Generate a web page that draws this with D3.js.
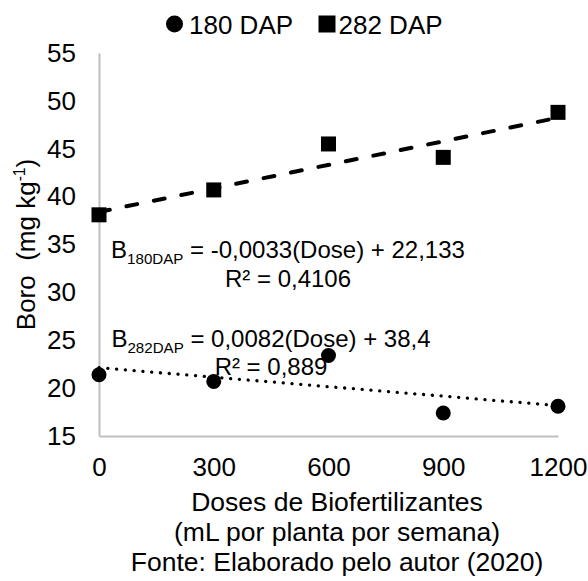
<!DOCTYPE html>
<html>
<head>
<meta charset="utf-8">
<script src="https://cdn.jsdelivr.net/npm/d3@7/dist/d3.min.js"></script>
<style>
  html, body { margin: 0; padding: 0; background: #fff; }
  svg { display: block; font-family: "Liberation Sans", Arial, sans-serif; }
</style>
</head>
<body>
<svg id="chart" width="588" height="581"></svg>
<script>
// Doses of biofertilizer (mL per plant per week)
const doses = [0, 300, 600, 900, 1200];
// Boron content (mg kg-1) at each dose
const boro180 = [21.4, 20.7, 23.4, 17.4, 18.1];
const boro282 = [38.1, 40.7, 45.5, 44.1, 48.8];
const seriesNames = ["180 DAP", "282 DAP"];
// Linear fits (B = slope * Dose + intercept)
const fitNames = ["180DAP", "282DAP"];
const fitSlope = [-0.0033, 0.0082];
const fitIntercept = [22.133, 38.4];
const fitR2 = [0.4106, 0.889];
// Axis ticks
const xTicks = [0, 300, 600, 900, 1200];
const yTicks = [15, 20, 25, 30, 35, 40, 45, 50, 55];

const svg = d3.select("#chart");
const x = d3.scaleLinear().domain([0, 1200]).range([99, 558]);
const y = d3.scaleLinear().domain([15, 55]).range([436, 53]);

const axisColor = "#bfbfbf";
const fontSize = 26;
const family = "Liberation Sans, Arial, sans-serif";

// Y axis
const gy = svg.append("g")
  .attr("transform", `translate(${x(0)},0)`)
  .call(d3.axisLeft(y).tickValues(yTicks).tickFormat(d3.format("d"))
    .tickSize(0).tickSizeOuter(0).tickPadding(23));
gy.select(".domain").attr("stroke", axisColor).attr("stroke-width", 2);
gy.selectAll("text").attr("font-size", fontSize).attr("fill", "#000").attr("font-family", family);

// X axis
const gx = svg.append("g")
  .attr("transform", `translate(0,${y(15)})`)
  .call(d3.axisBottom(x).tickValues(xTicks).tickFormat(d3.format("d"))
    .tickSize(0).tickSizeOuter(0).tickPadding(22));
gx.select(".domain").attr("stroke", axisColor).attr("stroke-width", 2);
gx.selectAll("text").attr("font-size", fontSize).attr("fill", "#000").attr("font-family", family);

// Trend lines
const line = d3.line().x(d => x(d[0])).y(d => y(d[1]));
const fitLine = i => [0, 1200].map(dv => [dv, fitSlope[i] * dv + fitIntercept[i]]);

svg.append("path")
  .datum(fitLine(0))
  .attr("d", line)
  .attr("fill", "none")
  .attr("stroke", "#000")
  .attr("stroke-width", 3.3)
  .attr("stroke-linecap", "round")
  .attr("stroke-dasharray", "0.1 8.7");

svg.append("path")
  .datum(fitLine(1))
  .attr("d", line)
  .attr("fill", "none")
  .attr("stroke", "#000")
  .attr("stroke-width", 4)
  .attr("stroke-linecap", "round")
  .attr("stroke-dasharray", "11 17");

// Markers
svg.append("g").selectAll("circle")
  .data(doses.map((dv, i) => [dv, boro180[i]]))
  .join("circle")
  .attr("cx", d => x(d[0]))
  .attr("cy", d => y(d[1]))
  .attr("r", 7.5)
  .attr("fill", "#000");

const sq = 15;
svg.append("g").selectAll("rect")
  .data(doses.map((dv, i) => [dv, boro282[i]]))
  .join("rect")
  .attr("x", d => x(d[0]) - sq / 2)
  .attr("y", d => y(d[1]) - sq / 2)
  .attr("width", sq)
  .attr("height", sq)
  .attr("fill", "#000");

// Equation labels
const fmt = v => String(v).replace(".", ",");
const eqPos = [[288, 258, 287], [271, 347, 375]];
const eqSize = 24;
fitNames.forEach((name, i) => {
  const [cx, y1, y2] = eqPos[i];
  const t = svg.append("text")
    .attr("x", cx).attr("y", y1)
    .attr("text-anchor", "middle")
    .attr("font-size", eqSize)
    .attr("fill", "#000");
  t.append("tspan").text("B");
  t.append("tspan").attr("font-size", eqSize * 0.63).attr("dy", 6).text(name);
  t.append("tspan").attr("dy", -6)
    .text(` = ${fmt(fitSlope[i])}(Dose) + ${fmt(fitIntercept[i])}`);
  svg.append("text")
    .attr("x", cx).attr("y", y2)
    .attr("text-anchor", "middle")
    .attr("font-size", eqSize)
    .attr("fill", "#000")
    .text(`R² = ${fmt(fitR2[i])}`);
});

// Legend
const legendY = 24;
svg.append("circle").attr("cx", 174.5).attr("cy", legendY).attr("r", 8.5).attr("fill", "#000");
svg.append("text").attr("x", 189).attr("y", legendY + 9.5)
  .attr("font-size", fontSize).attr("fill", "#000").text(seriesNames[0]);
svg.append("rect").attr("x", 327 - 8.5).attr("y", legendY - 8.5).attr("width", 17).attr("height", 17)
  .attr("fill", "#000");
svg.append("text").attr("x", 338.5).attr("y", legendY + 9.5)
  .attr("font-size", fontSize).attr("fill", "#000").text(seriesNames[1]);

// Y axis title
const yt = svg.append("text")
  .attr("transform", "translate(34.5,244.5) rotate(-90)")
  .attr("text-anchor", "middle")
  .attr("font-size", fontSize)
  .attr("fill", "#000")
  .style("white-space", "pre");
yt.append("tspan").text("Boro  (mg kg");
yt.append("tspan").attr("font-size", fontSize * 0.6).attr("dy", -10).text("-1");
yt.append("tspan").attr("dy", 10).text(")");

// X axis title and source
const xTitle = ["Doses de Biofertilizantes", "(mL por planta por semana)", "Fonte: Elaborado pelo autor (2020)"];
svg.append("g").selectAll("text")
  .data(xTitle)
  .join("text")
  .attr("x", 337)
  .attr("y", (d, i) => 511 + i * 30)
  .attr("text-anchor", "middle")
  .attr("font-size", 26.5)
  .attr("fill", "#000")
  .text(d => d);
</script>
</body>
</html>
